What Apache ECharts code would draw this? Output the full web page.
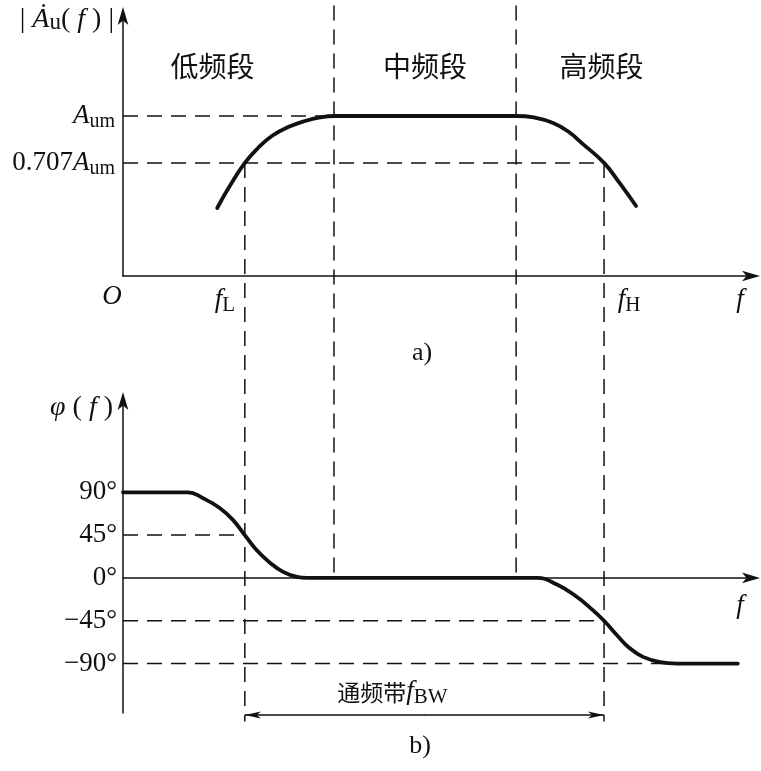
<!DOCTYPE html>
<html>
<head>
<meta charset="utf-8">
<script src="https://cdn.jsdelivr.net/npm/echarts@6.0.0/dist/echarts.min.js"></script>
<style>
html,body{margin:0;padding:0;background:#fff;}
#chart{width:761px;height:771px;}
</style>
</head>
<body>
<div id="chart"></div>
<script>
// ---------- data (frequency in relative units: 0 = origin O, 10 = end of the f axis) ----------
const fL = 1.94;   // lower cut-off frequency
const fM1 = 3.36;  // start of the mid band
const fM2 = 6.26;  // end of the mid band
const fH = 7.66;   // upper cut-off frequency
const fEnd = 10;

const bandNames = ['低频段', '中频段', '高频段'];
const bandEdges = [0, fM1, fM2, fEnd];

const ampTicks = [0.707, 1];
const ampTickPrefix = ['0.707', ''];
const phaseTicks = [90, 45, 0, -45, -90];

// amplitude response |Au(f)| (relative to Aum)
const ampF = [1.50, 1.70, 1.94, 2.15, 2.37, 2.63, 2.90, 3.14, 3.36, 6.26, 6.54, 6.85, 7.09, 7.32, 7.66, 7.91, 8.17];
const ampV = [0.425, 0.562, 0.707, 0.80, 0.875, 0.931, 0.969, 0.991, 1.0, 1.0, 0.991, 0.956, 0.903, 0.826, 0.707, 0.58, 0.4375];

// phase response φ(f) in degrees
const phaseF = [0, 1.035, 1.27, 1.54, 1.75, 1.94, 2.13, 2.34, 2.55, 2.77, 2.93, 6.59, 6.91, 7.23, 7.44, 7.66, 7.87, 8.07, 8.28, 8.55, 8.82, 9.79];
const phaseV = [90, 90, 84, 73.5, 61, 45, 29, 16, 6.3, 1, 0, 0, -7, -20, -31.5, -45, -60.5, -74, -83, -88.5, -90, -90];

// ---------- layout / style ----------
const SERIF = "'Liberation Serif','DejaVu Serif','Times New Roman',serif";
const CJK = "'Noto Sans CJK SC','Noto Sans CJK JP',sans-serif";
const INK = '#111';
const FS = 27;
const SUB = 20;
const guideTop = 1.69;      // top end of mid-band guides (amplitude units)
const guideBottom = -151;   // bottom end of cut-off guides (phase units)
const bwLevel = -144;       // height of the bandwidth arrow (phase units)
const bandLabelShift = [-16, 0, -32];

const rich = {
  n: {fontFamily: SERIF, fontSize: FS, color: INK},
  i: {fontFamily: SERIF, fontSize: FS, fontStyle: 'italic', color: INK},
  s: {fontFamily: SERIF, fontSize: SUB, color: INK, padding: [12, 0, 0, 0]},
  nm: {fontFamily: SERIF, fontSize: 28, color: INK},
  im: {fontFamily: SERIF, fontSize: 28, fontStyle: 'italic', color: INK},
  su: {fontFamily: SERIF, fontSize: 23, color: INK, padding: [6, 0, 0, 0]},
  o: {fontFamily: SERIF, fontSize: FS, fontStyle: 'italic', color: INK, padding: [0, 22, 0, 0]},
  fx: {fontFamily: SERIF, fontSize: FS, fontStyle: 'italic', color: INK},
  sl: {fontFamily: SERIF, fontSize: 21, color: INK, padding: [12, 40, 0, 0]},
  ih: {fontFamily: SERIF, fontSize: FS, fontStyle: 'italic', color: INK, padding: [0, 0, 0, 50]},
  sh: {fontFamily: SERIF, fontSize: 21, color: INK, padding: [12, 0, 0, 0]},
  c: {fontFamily: CJK, fontSize: 23, color: INK},
  bw: {fontFamily: SERIF, fontSize: 21, color: INK, padding: [12, 32, 0, 0]}
};

const axisLine = {show: true, onZero: true, symbol: ['none', 'arrow'], symbolSize: [8, 18],
  symbolOffset: [0, 9], lineStyle: {color: INK, width: 1.5}};
const dashStyle = {type: [15, 9], width: 1.5, color: INK};
const curveStyle = {width: 3.8, color: INK, cap: 'round', join: 'round'};

function zip(xs, ys) { return xs.map((x, k) => [x, ys[k]]); }

function guide(id, grid, pts) {
  return {id, type: 'line', xAxisIndex: grid, yAxisIndex: grid, data: pts, symbol: 'none',
    lineStyle: dashStyle, silent: true, clip: false, z: 2, animation: false};
}

const firstMinus90 = phaseF[phaseV.indexOf(-90)];
const ARROW_L = 'path://M0,4 L16,0 L12,4 L16,8 Z';
const ARROW_R = 'path://M16,4 L0,0 L4,4 L0,8 Z';

const option = {
  backgroundColor: '#fff',
  animation: false,
  grid: [
    {left: 123, right: 10, top: 16, bottom: 495, outerBoundsMode: 'none'},
    {left: 123, right: 10, top: 401, bottom: 58, outerBoundsMode: 'none'}
  ],
  xAxis: [
    {gridIndex: 0, type: 'value', min: 0, max: fEnd, axisLine,
      axisTick: {show: false}, splitLine: {show: false},
      axisLabel: {show: true, customValues: [0, fL, fH], margin: 7, rich,
        formatter: v => v === 0 ? '{o|O}' : (v === fL ? '{fx|f}{sl|L}' : '{ih|f}{sh|H}')},
      name: 'f', nameLocation: 'end', nameGap: -11,
      nameTextStyle: {fontFamily: SERIF, fontStyle: 'italic', fontSize: 27, color: INK,
        align: 'center', verticalAlign: 'top', padding: [10, 0, 0, 0]}},
    {gridIndex: 1, type: 'value', min: 0, max: fEnd, axisLine,
      axisTick: {show: false}, splitLine: {show: false}, axisLabel: {show: false},
      name: 'f', nameLocation: 'end', nameGap: -11,
      nameTextStyle: {fontFamily: SERIF, fontStyle: 'italic', fontSize: 27, color: INK,
        align: 'center', verticalAlign: 'top', padding: [14, 0, 0, 0]}}
  ],
  yAxis: [
    {gridIndex: 0, type: 'value', min: 0, max: 1.625, axisLine,
      axisTick: {show: false}, splitLine: {show: false},
      axisLabel: {show: true, customValues: ampTicks, margin: 8, rich,
        formatter: v => {
          const k = ampTicks.indexOf(v);
          return (ampTickPrefix[k] ? '{n|' + ampTickPrefix[k] + '}' : '') + '{i|A}{s|um}';
        }},
      name: '{nm||}{im| Ȧ}{su|u}{nm|(}{im| f }{nm|) |}', nameLocation: 'end', nameGap: -4,
      nameTextStyle: {rich, align: 'right', verticalAlign: 'middle', padding: [0, 9, 0, 0]}},
    {gridIndex: 1, type: 'value', min: -142, max: 186, axisLine,
      axisTick: {show: false}, splitLine: {show: false},
      axisLabel: {show: true, customValues: phaseTicks, margin: 6, rich,
        formatter: v => '{n|' + (v < 0 ? '−' : '') + Math.abs(v) + '°}'},
      name: '{im|φ}{nm| ( }{im|f}{nm| )}', nameLocation: 'end', nameGap: -7,
      nameTextStyle: {rich, align: 'right', verticalAlign: 'middle', padding: [0, 10, 0, 0]}}
  ],
  graphic: [
    {type: 'text', x: 422, y: 353, silent: true,
      style: {text: 'a)', fontSize: 26, fontFamily: SERIF, fill: INK, align: 'center', verticalAlign: 'middle'}},
    {type: 'text', x: 420, y: 746, silent: true,
      style: {text: 'b)', fontSize: 26, fontFamily: SERIF, fill: INK, align: 'center', verticalAlign: 'middle'}}
  ],
  series: [
    // amplitude guides
    guide('hA1', 0, [[0, ampTicks[1]], [fM1, ampTicks[1]]]),
    guide('hA0', 0, [[0, ampTicks[0]], [fH, ampTicks[0]]]),
    // vertical guides (drawn in the phase grid; top ends filled in after layout)
    guide('vM1', 1, [[fM1, 0], [fM1, 0]]),
    guide('vM2', 1, [[fM2, 0], [fM2, 0]]),
    guide('vL', 1, [[fL, guideBottom], [fL, guideBottom]]),
    guide('vH', 1, [[fH, guideBottom], [fH, guideBottom]]),
    // phase guides
    guide('hP45', 1, [[0, phaseTicks[1]], [fL, phaseTicks[1]]]),
    guide('hPm45', 1, [[0, phaseTicks[3]], [fH, phaseTicks[3]]]),
    guide('hPm90', 1, [[0, phaseTicks[4]], [firstMinus90, phaseTicks[4]]]),
    {
      id: 'amp', type: 'line', xAxisIndex: 0, yAxisIndex: 0, data: zip(ampF, ampV),
      symbol: 'none', smooth: 0.45, lineStyle: curveStyle, z: 5, silent: true,
      markArea: {
        silent: true,
        itemStyle: {color: 'rgba(0,0,0,0)'},
        label: {show: true, position: 'insideTop', distance: 36, fontFamily: CJK, fontSize: 28, color: INK},
        data: bandNames.map((nm, k) => [
          {xAxis: bandEdges[k], name: nm, label: {offset: [bandLabelShift[k], 0]}},
          {xAxis: bandEdges[k + 1]}
        ])
      }
    },
    {
      id: 'phase', type: 'line', xAxisIndex: 1, yAxisIndex: 1, data: zip(phaseF, phaseV),
      symbol: 'none', smooth: 0.45, lineStyle: curveStyle, z: 5, silent: true
    },
    // pass-band width f_BW = fH - fL, double-headed arrow
    {
      id: 'bw', type: 'line', xAxisIndex: 1, yAxisIndex: 1, clip: false, silent: true, z: 4,
      showSymbol: true, showAllSymbol: true, symbolSize: [16, 7],
      itemStyle: {color: INK}, lineStyle: {color: INK, width: 1.5},
      emphasis: {disabled: true},
      data: [
        {value: [fL, bwLevel], symbol: ARROW_L, symbolOffset: [8, 0]},
        {value: [(fL + fH) / 2, bwLevel], symbol: 'circle', symbolSize: 1,
          label: {show: true, position: 'top', distance: 6, offset: [-16, 0], rich,
            formatter: '{c|通频带}{i|f}{bw|BW}'}},
        {value: [fH, bwLevel], symbol: ARROW_R, symbolOffset: [-8, 0]}
      ]
    }
  ]
};

const chart = echarts.init(document.getElementById('chart'));
chart.setOption(option);

// map an amplitude-grid point to the phase grid's value scale, so guides can cross both plots
function toPhase(x, y) {
  const px = chart.convertToPixel({gridIndex: 0}, [x, y]);
  return chart.convertFromPixel({gridIndex: 1}, px)[1];
}
chart.setOption({
  series: [
    {id: 'vM1', data: [[fM1, toPhase(fM1, guideTop)], [fM1, 0]]},
    {id: 'vM2', data: [[fM2, toPhase(fM2, guideTop)], [fM2, 0]]},
    {id: 'vL', data: [[fL, toPhase(fL, ampTicks[0])], [fL, guideBottom]]},
    {id: 'vH', data: [[fH, toPhase(fH, ampTicks[0])], [fH, guideBottom]]}
  ]
});
</script>
</body>
</html>
